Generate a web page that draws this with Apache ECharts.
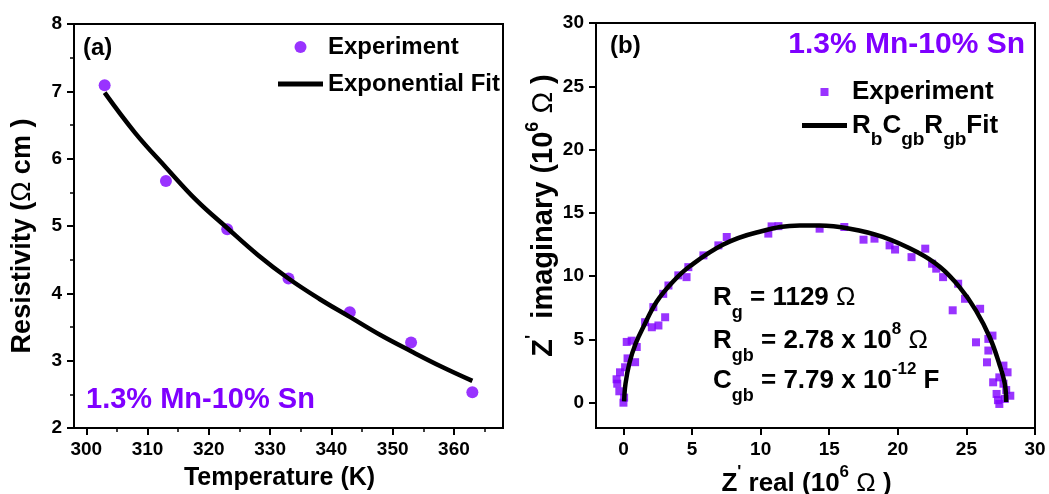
<!DOCTYPE html>
<html><head><meta charset="utf-8">
<script src="https://cdn.jsdelivr.net/npm/echarts@6/dist/echarts.min.js"></script>
<style>html,body{margin:0;padding:0;background:#fff}#c{width:1049px;height:494px}</style>
</head><body><div id="c"></div>
<script>
// ---- Panel (a): resistivity vs temperature ----
const tempK = [303, 313, 323, 333, 343, 353, 363];
const resistivity = [7.09, 5.67, 4.95, 4.22, 3.72, 3.27, 2.53];
const fitTempK = [303, 308, 313, 318, 323, 328, 333, 338, 343, 348, 353, 358, 363];
const fitResistivity = [6.98, 6.38, 5.87, 5.38, 4.97, 4.57, 4.22, 3.92, 3.65, 3.38, 3.14, 2.91, 2.70];
const tempTicks = [300, 310, 320, 330, 340, 350, 360];
const tempMinorTicks = [305, 315, 325, 335, 345, 355, 365];

// ---- Panel (b): impedance (Nyquist) ----
const zReal = [0.0, 0.05, -0.3, -0.45, -0.5, -0.25, 0.12, 0.85, 0.3, 0.97, 0.24, 0.6, 2.07, 1.58, 2.55, 3.04, 2.18, 2.9, 3.28, 4.0,
  4.6, 4.73, 5.83, 6.92, 7.53, 10.56, 10.8, 11.3, 14.3, 16.1, 17.5, 18.3, 19.4, 19.8, 21.0, 22.0, 22.5, 22.8, 23.3, 24.4,
  24.0, 24.9, 26.0, 25.7, 26.6, 26.9, 26.6, 26.5, 27.7, 28.0, 26.95, 27.4, 27.2, 28.2, 27.4, 27.8, 27.7, 27.9, 27.3];
const zImag = [0.0, 0.4, 0.9, 1.5, 1.85, 2.4, 2.8, 3.2, 3.5, 4.4, 4.8, 4.9, 5.96, 6.36, 6.1, 6.75, 7.55, 8.6, 9.26, 10.06,
  9.92, 10.71, 11.64, 12.43, 13.09, 13.36, 13.93, 13.95, 13.75, 13.88, 12.88, 12.96, 12.43, 12.1, 11.5, 12.17, 10.98, 10.59, 9.92, 9.4,
  7.3, 8.21, 7.42, 4.77, 5.04, 5.3, 4.12, 3.19, 2.93, 2.4, 1.61, 2.0, 0.69, 0.55, -0.1, 0.3, 1.5, 1.0, 0.2];
const fitReal = [0.05, 0.15, 0.45, 0.9, 1.46, 2.43, 3.64, 4.86, 7.28, 9.7, 12.85, 14.3, 16.5, 18.9, 21.4, 23.1, 24.5, 25.7, 26.7, 27.4, 27.8, 27.9];
const fitImag = [0.1, 1.5, 3.2, 4.7, 6.0, 8.0, 9.6, 10.8, 12.5, 13.45, 14.0, 14.0, 13.75, 13.1, 11.9, 10.7, 9.13, 7.28, 5.17, 3.06, 1.48, 0.05];
const zTicks = [0, 5, 10, 15, 20, 25, 30];

const FF = '"Liberation Sans", Arial, Helvetica, sans-serif';
const PURPLE = '#7F00FF';

const chart = echarts.init(document.getElementById('c'), null, {renderer: 'canvas'});

function axisBase(extra) {
  return Object.assign({
    type: 'value',
    axisLine: {show: true, onZero: false, lineStyle: {color: '#000', width: 2}},
    axisTick: {show: true, inside: false, length: 7, lineStyle: {color: '#000', width: 2}},
    axisLabel: {fontFamily: FF, fontSize: 19, fontWeight: 'bold', color: '#000', margin: 12},
    splitLine: {show: false},
    nameLocation: 'middle',
    nameTextStyle: {fontFamily: FF, fontSize: 25, fontWeight: 'bold', color: '#000'}
  }, extra);
}

function richFor(size, supSize) {
  return {
    b: {fontFamily: FF, fontSize: size, fontWeight: 'bold', color: '#000'},
    o: {fontFamily: FF, fontSize: size, fontWeight: 'normal', color: '#000'},
    p: {fontFamily: FF, fontSize: supSize, fontWeight: 'bold', color: '#000', padding: [0, 0, 22, 0]}
  };
}

const paramRich = {
  n: {fontFamily: FF, fontSize: 26, fontWeight: 'bold', fill: '#000'},
  o: {fontFamily: FF, fontSize: 26, fontWeight: 'normal', fill: '#000'},
  s: {fontFamily: FF, fontSize: 18, fontWeight: 'bold', fill: '#000', padding: [30, 0, 0, 0]},
  p: {fontFamily: FF, fontSize: 17, fontWeight: 'bold', fill: '#000', padding: [0, 0, 24, 0]}
};

function txt(x, y, text, opts) {
  return {
    type: 'text', x: x, y: y, z: 100,
    style: Object.assign({text: text, fontFamily: FF, fontWeight: 'bold', fill: '#000',
      textAlign: 'left', textVerticalAlign: 'middle'}, opts || {})
  };
}

const option = {
  animation: false,
  backgroundColor: '#fff',
  grid: [
    {left: 74, top: 24, width: 429, height: 404, containLabel: false, outerBoundsMode: 'none',
      show: true, borderColor: '#000', borderWidth: 2, backgroundColor: 'transparent'},
    {left: 596, top: 23, width: 439, height: 405, containLabel: false, outerBoundsMode: 'none',
      show: true, borderColor: '#000', borderWidth: 2, backgroundColor: 'transparent'}
  ],
  xAxis: [
    axisBase({gridIndex: 0, min: 298, max: 368, position: 'bottom',
      axisTick: {show: true, inside: false, length: 7, customValues: tempTicks, lineStyle: {color: '#000', width: 2}},
      axisLabel: {customValues: tempTicks, fontFamily: FF, fontSize: 19, fontWeight: 'bold', color: '#000', margin: 12},
      name: 'Temperature (K)', nameGap: 38,
      nameTextStyle: {fontFamily: FF, fontSize: 25, fontWeight: 'bold', color: '#000', padding: [0, 18, 0, 0]}}),
    {type: 'value', gridIndex: 0, min: 298, max: 368, position: 'bottom',
      axisLine: {show: false, onZero: false},
      axisTick: {show: true, inside: false, length: 4, customValues: tempMinorTicks, lineStyle: {color: '#000', width: 1.5}},
      axisLabel: {show: false}, splitLine: {show: false}},
    axisBase({gridIndex: 1, min: -2, max: 30, position: 'bottom',
      axisTick: {show: true, inside: false, length: 7, customValues: zTicks, lineStyle: {color: '#000', width: 2}},
      axisLabel: {customValues: zTicks, fontFamily: FF, fontSize: 19, fontWeight: 'bold', color: '#000', margin: 12},
      name: "{b|Z}{p|'}{b| real (10}{p|6}{o| Ω }{b|)}", nameGap: 36,
      nameTextStyle: {fontFamily: FF, fontSize: 26, fontWeight: 'bold', color: '#000', padding: [0, 18, 0, 0], rich: richFor(26, 17)}})
  ],
  yAxis: [
    axisBase({gridIndex: 0, min: 2, max: 8, interval: 1, position: 'left',
      minorTick: {show: true, splitNumber: 2, length: 4, lineStyle: {color: '#000', width: 1.5}},
      minorSplitLine: {show: false},
      name: '{b|Resistivity (}{o|Ω}{b| cm )}', nameGap: 38,
      nameTextStyle: {fontFamily: FF, fontSize: 27, fontWeight: 'bold', color: '#000', padding: [0, 20, 0, 0], rich: richFor(27, 17)}}),
    axisBase({gridIndex: 1, min: -2, max: 30, position: 'left',
      axisTick: {show: true, inside: false, length: 7, customValues: zTicks, lineStyle: {color: '#000', width: 2}},
      axisLabel: {customValues: zTicks, fontFamily: FF, fontSize: 19, fontWeight: 'bold', color: '#000', margin: 12},
      name: "{b|Z}{p|'}{b|  imaginary (10}{p|6}{o| Ω }{b|)}", nameGap: 30,
      nameTextStyle: {fontFamily: FF, fontSize: 29, fontWeight: 'bold', color: '#000', padding: [0, 0, 0, 20], rich: richFor(29, 18)}})
  ],
  legend: [
    {left: 278, top: 35, padding: 0, orient: 'vertical', itemWidth: 45, itemHeight: 12, itemGap: 13, selectedMode: false,
      data: ['Experiment', {name: 'Exponential Fit', icon: 'path://M0,0L45,0L45,5L0,5Z', itemStyle: {color: '#000'}}],
      textStyle: {fontFamily: FF, fontSize: 24, fontWeight: 'bold', color: '#000'}},
    {left: 802, top: 79, padding: 0, orient: 'vertical', itemWidth: 45, itemHeight: 8, itemGap: 7.5, selectedMode: false,
      data: [{name: 'Experiment (b)', icon: 'path://M0,0L10,0L10,10L0,10Z'},
             {name: 'RbCgbRgbFit', icon: 'path://M0,0L45,0L45,5L0,5Z', itemStyle: {color: '#000'}}],
      formatter: function (name) {
        if (name === 'Experiment (b)') return '{e|Experiment}';
        return '{n|R}{s|b}{n|C}{s|gb}{n|R}{s|gb}{n|Fit}';
      },
      textStyle: {fontFamily: FF, fontSize: 26, fontWeight: 'bold', color: '#000',
        rich: {
          e: {fontFamily: FF, fontSize: 26, fontWeight: 'bold', color: '#000'},
          n: {fontFamily: FF, fontSize: 26, fontWeight: 'bold', color: '#000'},
          s: {fontFamily: FF, fontSize: 19, fontWeight: 'bold', color: '#000', padding: [28, 0, 0, 0]}
        }}}
  ],
  series: [
    {name: 'Experiment', type: 'scatter', xAxisIndex: 0, yAxisIndex: 0, symbol: 'circle', symbolSize: 12,
      itemStyle: {color: PURPLE}, z: 2,
      data: tempK.map((t, i) => [t, resistivity[i]])},
    {name: 'Exponential Fit', type: 'line', xAxisIndex: 0, yAxisIndex: 0, symbol: 'none', smooth: 0.4,
      lineStyle: {color: '#000', width: 4.5}, itemStyle: {color: '#000'}, z: 3,
      data: fitTempK.map((t, i) => [t, fitResistivity[i]])},
    {name: 'Experiment (b)', type: 'scatter', xAxisIndex: 2, yAxisIndex: 1, symbol: 'rect', symbolSize: 8,
      itemStyle: {color: PURPLE}, z: 2,
      data: zReal.map((x, i) => [x, zImag[i]])},
    {name: 'RbCgbRgbFit', type: 'line', xAxisIndex: 2, yAxisIndex: 1, symbol: 'none', smooth: 0.4,
      lineStyle: {color: '#000', width: 4.5}, itemStyle: {color: '#000'}, z: 3,
      data: fitReal.map((x, i) => [x, fitImag[i]])}
  ],
  graphic: [
    txt(83, 48, '(a)', {fontSize: 24}),
    txt(86, 400, '1.3% Mn-10% Sn', {fontSize: 29, fill: PURPLE}),
    txt(610, 46, '(b)', {fontSize: 24}),
    txt(1025, 45, '1.3% Mn-10% Sn', {fontSize: 30, fill: PURPLE, textAlign: 'right'}),
    txt(713, 298, '{n|R}{s|g}{n| = 1129 }{o|Ω}', {fontSize: 26, rich: paramRich}),
    txt(713, 341, '{n|R}{s|gb}{n| = 2.78 x 10}{p|8}{n| }{o|Ω}', {fontSize: 26, rich: paramRich}),
    txt(713, 381, '{n|C}{s|gb}{n| = 7.79 x 10}{p|-12}{n| F}', {fontSize: 26, rich: paramRich})
  ]
};
chart.setOption(option);
</script>
</body></html>
